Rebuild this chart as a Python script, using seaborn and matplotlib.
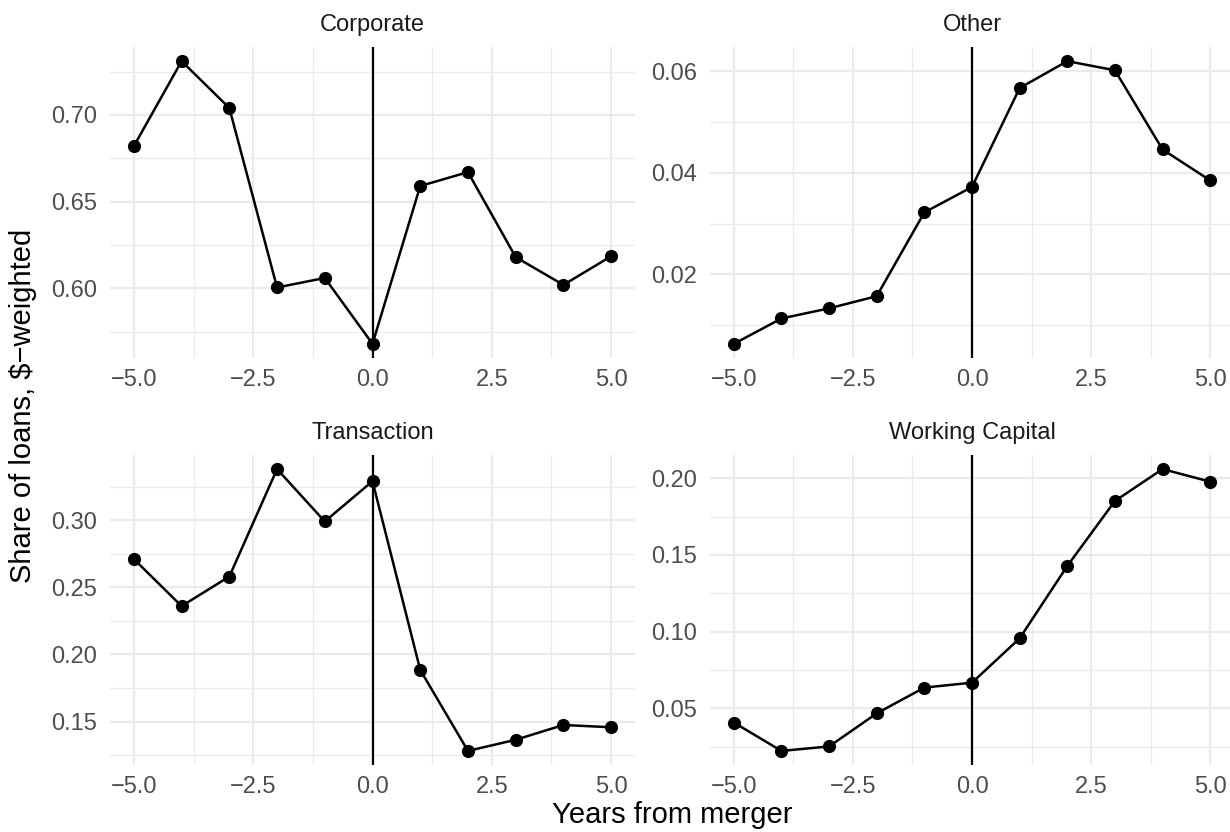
"""
Loan shares by type around the merger year
"""

import pandas as pd
import seaborn as sns
import matplotlib.pyplot as plt
from matplotlib.ticker import MultipleLocator, AutoMinorLocator, FuncFormatter

years = [-5, -4, -3, -2, -1, 0, 1, 2, 3, 4, 5]
loan_types = ["Corporate", "Other", "Transaction", "Working Capital"]

corporate = [0.682, 0.731, 0.704, 0.6005, 0.606, 0.568, 0.659, 0.667, 0.618, 0.602, 0.6185]
other = [0.0063, 0.0113, 0.0133, 0.0157, 0.0322, 0.0372, 0.0567, 0.0620, 0.0602, 0.0446, 0.0385]
transaction = [0.271, 0.236, 0.258, 0.338, 0.299, 0.329, 0.1885, 0.1282, 0.1365, 0.1475, 0.1458]
working_capital = [0.0407, 0.0222, 0.0251, 0.0467, 0.0635, 0.0667, 0.0956, 0.1428, 0.1852, 0.2060, 0.1978]

y_steps = {"Corporate": 0.05, "Other": 0.02, "Transaction": 0.05, "Working Capital": 0.05}


def main():
    sns.set_style("white")
    plt.rcParams["font.family"] = ["Liberation Sans", "DejaVu Sans"]

    df = pd.DataFrame({
        "year": years * 4,
        "share": corporate + other + transaction + working_capital,
        "type": [t for t in loan_types for _ in years],
    })

    g = sns.FacetGrid(df, col="type", col_wrap=2, col_order=loan_types,
                      sharex=False, sharey=False, despine=False)
    g.map_dataframe(sns.lineplot, x="year", y="share", color="black", marker="o",
                    markersize=9.5, markeredgewidth=0, linewidth=1.8, errorbar=None)
    fig = g.figure
    fig.set_size_inches(12.3, 8.32)

    W, H = 1230, 832
    boxes = {
        "Corporate": (110, 47, 635, 358),
        "Other": (710, 47, 1234, 358),
        "Transaction": (110, 455, 635, 765),
        "Working Capital": (710, 455, 1234, 765),
    }
    xfmt = FuncFormatter(lambda v, p: f"{v:.1f}".replace("-", "\u2212"))
    yfmt = FuncFormatter(lambda v, p: f"{v:.2f}".replace("-", "\u2212"))

    for name, ax in g.axes_dict.items():
        x0, y0, x1, y1 = boxes[name]
        ax.set_position([x0 / W, 1 - y1 / H, (x1 - x0) / W, (y1 - y0) / H])
        vals = df.loc[df["type"] == name, "share"]
        lo, hi = vals.min(), vals.max()
        pad = (hi - lo) * 0.05
        ax.set_ylim(lo - pad, hi + pad)
        ax.set_xlim(-5.5, 5.5)
        ax.axvline(0, color="black", lw=1.6, zorder=1)

        ax.xaxis.set_major_locator(MultipleLocator(2.5))
        ax.xaxis.set_minor_locator(AutoMinorLocator(2))
        ax.yaxis.set_major_locator(MultipleLocator(y_steps[name]))
        ax.yaxis.set_minor_locator(AutoMinorLocator(2))
        ax.xaxis.set_major_formatter(xfmt)
        ax.yaxis.set_major_formatter(yfmt)
        ax.grid(which="major", color="#EBEBEB", lw=1.6)
        ax.grid(which="minor", color="#EBEBEB", lw=0.9)
        ax.set_axisbelow(True)
        ax.tick_params(which="both", length=0, labelsize=17, colors="#4D4D4D")
        ax.tick_params(axis="x", pad=8)
        ax.tick_params(axis="y", pad=9)
        for s in ax.spines.values():
            s.set_visible(False)
        ax.set_title("")
        ax.set_xlabel("")
        ax.set_ylabel("")
        ax.text(0.5, 1 + 22 / (y1 - y0), name, transform=ax.transAxes,
                ha="center", va="center", fontsize=17, color="#1A1A1A")

    fig.text(672 / W, 1 - 815 / H, "Years from merger", ha="center", va="center",
             fontsize=21, color="black")
    fig.text(23 / W, 1 - 406 / H, "Share of loans, $\u2212weighted", ha="center",
             va="center", rotation=90, fontsize=21, color="black")

    fig.savefig("out.png", dpi=100)


if __name__ == "__main__":
    main()
